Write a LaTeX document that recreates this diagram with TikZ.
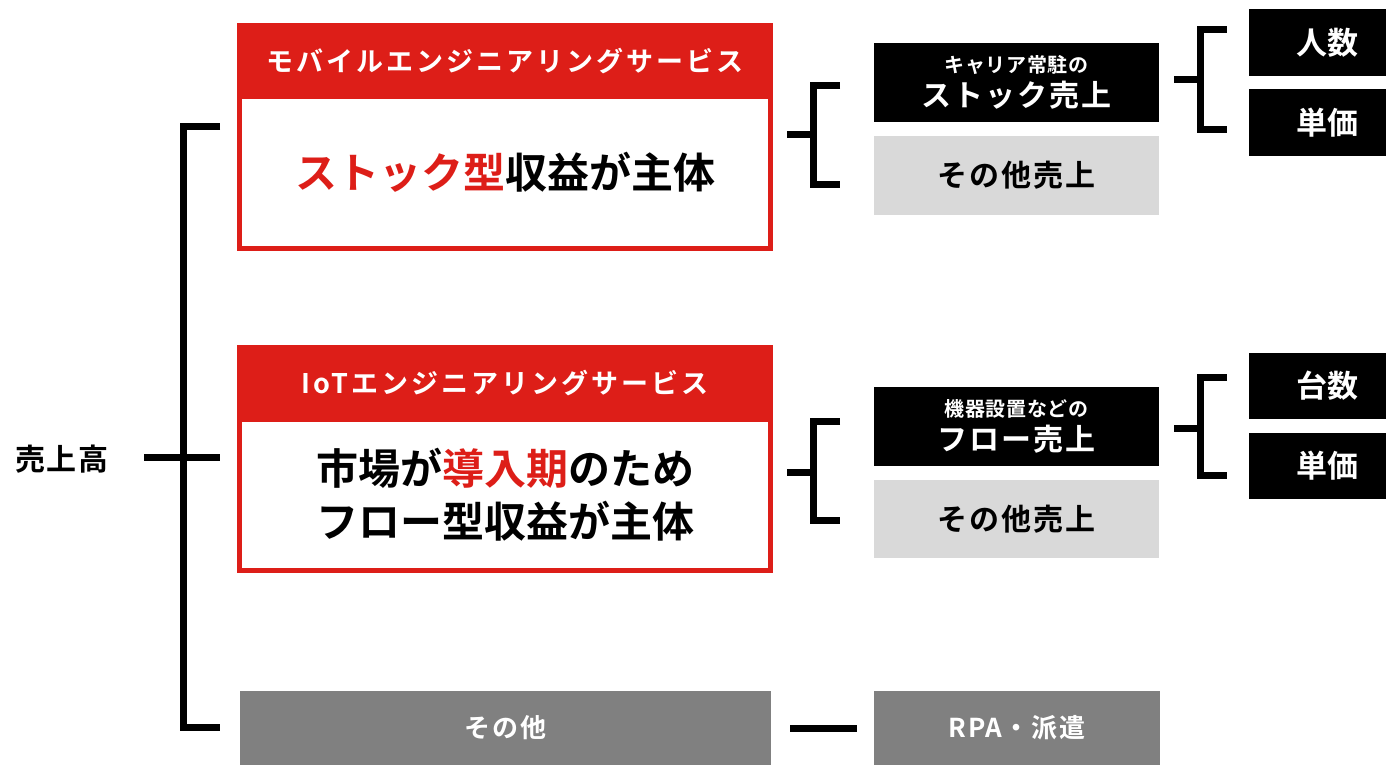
\documentclass[tikz,border=0pt]{standalone}
\usepackage{fontspec}
\setmainfont{Noto Sans CJK JP}[BoldFont={Noto Sans CJK JP Bold}]
\usepackage{tikz}
\definecolor{SvcRed}{RGB}{221,30,24}
\definecolor{MidGray}{RGB}{128,128,128}
\definecolor{LightGray}{RGB}{217,217,217}
\usetikzlibrary{positioning,calc}
\newcommand{\fs}[2]{\fontsize{#1}{#2}\selectfont}
\newcommand{\spaced}[2]{{\addfontfeatures{LetterSpace=#1}#2}}

\begin{document}
\begin{tikzpicture}[x=1pt, y=-1pt, every node/.style={font=\bfseries, inner sep=0},
    hdr/.style={fill=SvcRed, text=white, minimum width=536, minimum height=76, font=\bfseries\fs{27}{30}},
    svcbody/.style={draw=SvcRed, line width=5, fill=white, minimum width=531, minimum height=151.5, align=center, font=\bfseries\fs{42}{53}},
    blk/.style={fill=black, text=white, minimum width=285, minimum height=79, align=center},
    lgt/.style={fill=LightGray, minimum width=285, minimum height=79, font=\bfseries\fs{30}{32}},
    sml/.style={fill=black, text=white, minimum width=156, minimum height=67, font=\bfseries\fs{31}{34}},
    gry/.style={fill=MidGray, text=white, minimum height=74, font=\bfseries\fs{26}{28}},
    brk/.style={line width=7, line join=miter}]
\useasboundingbox (0,0) rectangle (1386,765);

%draw the service boxes
\node[svcbody] (mobbody) at (505,172.75) {{\color{SvcRed}ストック型}収益が主体};
\node[hdr] (mobhead) at (505,61) {\spaced{11}{モバイルエンジニアリングサービス}};
\node[svcbody] (iotbody) at (505,494.75) {市場が{\color{SvcRed}導入期}のため\\フロー型収益が主体};
\node[hdr] (iothead) at (505,383) {\spaced{11}{IoTエンジニアリングサービス}};
\node[gry, minimum width=531] (other) at (505.5,728) {\spaced{6}{その他}};

% sales breakdown
\node[blk] (stock) at (1016.5,82.5) {{\fs{20}{22}\spaced{3}{キャリア常駐の}}\\[5pt]{\fs{30}{32}\spaced{7}{ストック売上}}};
\node[lgt] (stockother) at (1016.5,175.5) {\spaced{7}{その他売上}};
\node[blk] (flow) at (1016.5,426.5) {{\fs{20}{22}\spaced{3}{機器設置などの}}\\[5pt]{\fs{30}{32}\spaced{7}{フロー売上}}};
\node[lgt, minimum height=78] (flowother) at (1016.5,519) {\spaced{7}{その他売上}};
\node[gry, minimum width=286] (rpa) at (1017,728) {\spaced{6}{RPA・派遣}};

%the unit drivers
\node[sml] (heads) at (1327,42.5) {人数};
\node[sml] (price1) at (1327,122.5) {単価};
\node[sml, minimum height=66] (units) at (1327,386) {台数};
\node[sml, minimum height=66] (price2) at (1327,466) {単価};

\node[font=\bfseries\fs{30}{32}] (sales) at (62,459) {\spaced{6}{売上高}};

%Draw the brackets
\draw[brk] (220,127) -- (183.5,127) -- (183.5,727) -- (220,727);
\draw[brk] ($(sales.east)+(35,-2)$) -- (220,457);
\foreach \xa/\xv/\ya/\ym/\yb [evaluate={\xt=\xv+26.5}] in {787/813.5/85.5/134.5/184.5, 787/813.5/421.5/472.5/520, 1174/1200/30/80/130, 1174/1200/377/428.5/475}{
    \draw[brk] (\xt,\ya) -- (\xv,\ya) -- (\xv,\yb) -- (\xt,\yb);
    \draw[brk] (\xa,\ym) -- (\xv,\ym);
}
\draw[brk, shorten <=19, shorten >=17] (other) -- (rpa);
\end{tikzpicture}
\end{document}
